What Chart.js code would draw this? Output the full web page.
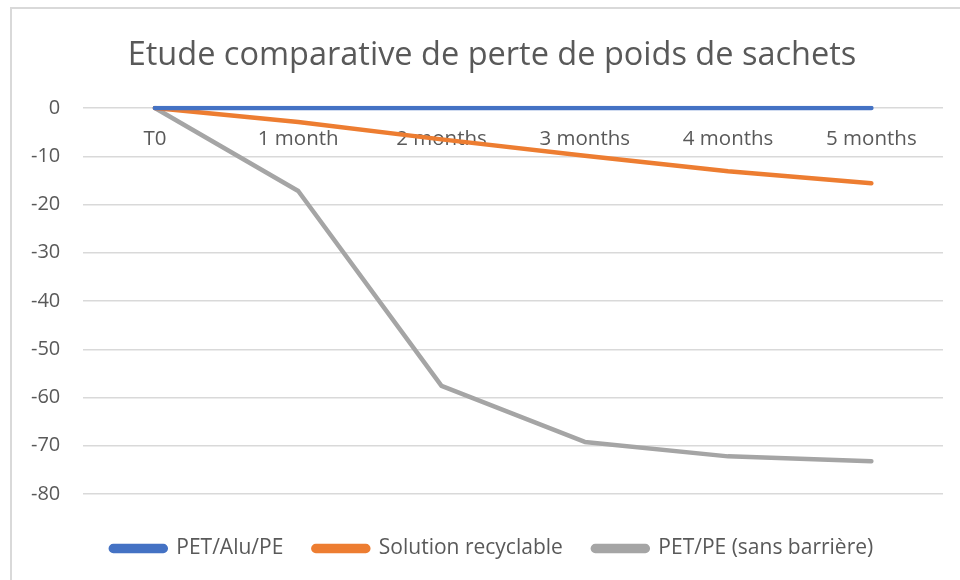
<!DOCTYPE html>
<html>
<head>
<meta charset="utf-8">
<script src="https://cdn.jsdelivr.net/npm/chart.js@4"></script>
<style>
  html, body { margin: 0; padding: 0; background: #fff; }
  #wrap { position: relative; width: 960px; height: 580px; overflow: hidden; }
  #frame { position: absolute; left: 10px; top: 7px; width: 1000px; height: 700px;
           border-left: 2px solid #d9d9d9; border-top: 2px solid #d9d9d9; }
  canvas { position: absolute; left: 0; top: 0; }
</style>
</head>
<body>
<div id="wrap">
  <div id="frame"></div>
  <canvas id="chart" width="984" height="580"></canvas>
</div>
<script>
const periods = ["T0", "1 month", "2 months", "3 months", "4 months", "5 months"];
const petAluPe = [0, 0, 0, 0, 0, 0];
const recyclable = [0, -2.9, -6.5, -9.9, -13.1, -15.6];
const petPe = [0, -17.2, -57.6, -69.2, -72.2, -73.2];

const textColor = "#595959";
const gridColor = "#d9d9d9";
const fontFamily = "'Open Sans', 'Liberation Sans', sans-serif";

function serie(label, data, color) {
  return {
    label: label,
    data: data,
    borderColor: color,
    backgroundColor: color,
    borderWidth: 4.5,
    borderCapStyle: "round",
    borderJoinStyle: "round",
    pointRadius: 0,
    tension: 0,
  };
}

const ctx = document.getElementById("chart").getContext("2d");
new Chart(ctx, {
  type: "line",
  data: {
    labels: periods,
    datasets: [
      serie("PET/Alu/PE", petAluPe, "#4472c4"),
      serie("Solution recyclable", recyclable, "#ed7d31"),
      serie("PET/PE (sans barrière)", petPe, "#a5a5a5"),
    ],
  },
  options: {
    responsive: false,
    animation: false,
    // le canvas dépasse à droite pour centrer titre et légende comme dans Excel
    layout: { padding: { left: 8, right: 8, top: 10, bottom: 11 } },
    plugins: {
      title: {
        display: true,
        text: "Etude comparative de perte de poids de sachets",
        color: textColor,
        font: { family: fontFamily, size: 32.5, weight: "normal" },
        padding: { top: 26, bottom: 33 },
      },
      legend: {
        position: "bottom",
        labels: {
          color: textColor,
          font: { family: fontFamily, size: 21 },
          boxWidth: 55,
          boxHeight: 5,
          useBorderRadius: true,
          borderRadius: 2.5,
          padding: 30,
        },
      },
      tooltip: { enabled: false },
    },
    scales: {
      x: {
        position: { y: 0 },
        offset: true,
        grid: { display: false, drawTicks: false },
        border: { display: false },
        ticks: {
          color: textColor,
          font: { family: fontFamily, size: 20.5 },
          padding: 19,
          maxRotation: 0,
        },
      },
      // espaces vides : sous le graphique et à droite
      gap: {
        type: "category",
        position: "bottom",
        grid: { display: false },
        border: { display: false },
        ticks: { display: false },
        afterFit: (scale) => { scale.height = 14; },
      },
      rightGap: {
        type: "linear",
        axis: "y",
        position: "right",
        grid: { display: false },
        border: { display: false },
        ticks: { display: false },
        afterFit: (scale) => { scale.width = 33; },
      },
      y: {
        min: -80,
        max: 0,
        grid: { color: gridColor, lineWidth: 1.5, drawTicks: false },
        border: { display: false },
        ticks: {
          stepSize: 10,
          color: textColor,
          font: { family: fontFamily, size: 20 },
          padding: 23,
        },
      },
    },
  },
});
</script>
</body>
</html>
